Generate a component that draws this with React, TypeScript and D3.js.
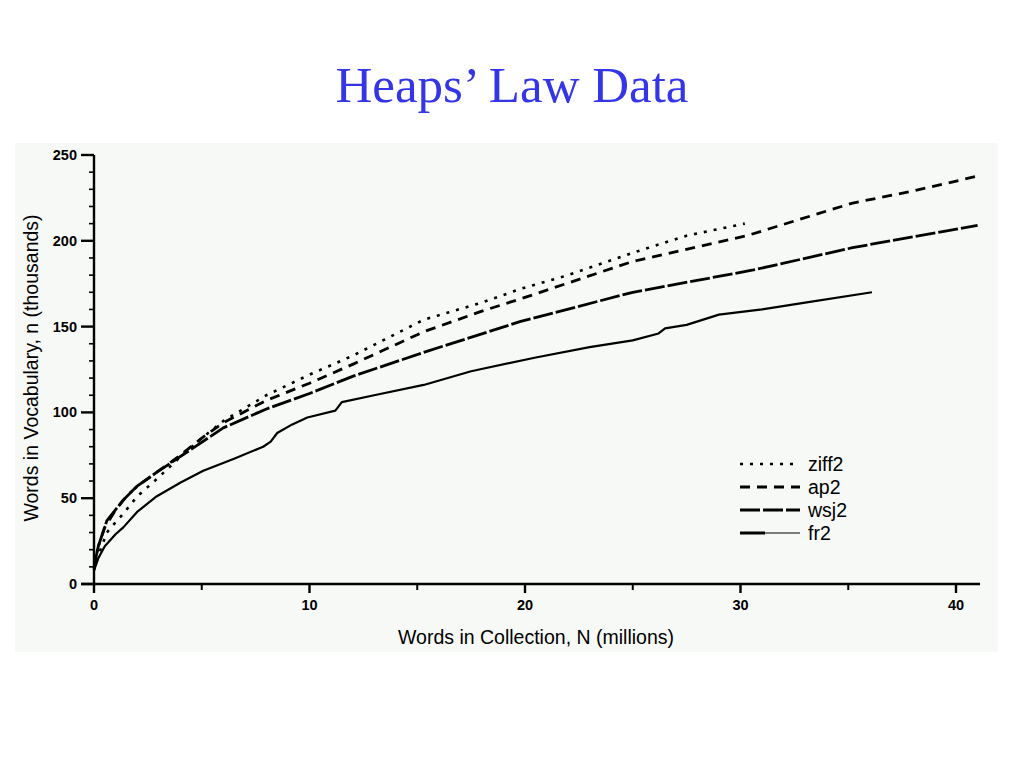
import React from 'react';
import * as d3 from 'd3';

// values (N in millions, n in thousands)
const ziffN = [0, 0.1, 0.3, 0.6, 1.0, 1.36, 2.0, 2.9, 4.0, 5.0, 6.0, 8.0, 10, 12, 15.3, 18, 19.8, 22, 25, 27.5, 30.2];
const ziffV = [8, 13, 20, 30, 36, 41, 51, 61, 74, 85, 95, 110, 122, 133, 154, 164, 172, 180, 193, 203, 210];

const apN = [0, 0.1, 0.2, 0.5, 1.0, 1.5, 2.0, 2.9, 4.0, 5.0, 6.0, 8.0, 10, 12, 15.3, 18, 20, 25, 30.3, 35.2, 38, 41.1];
const apV = [9, 16, 22, 33, 43, 51, 57, 65, 75, 85, 94, 107, 117, 128, 147, 159, 167, 188, 203, 222, 229, 238];

const wsjN = [0, 0.1, 0.2, 0.6, 1.36, 2.0, 2.9, 4.45, 6.0, 8.0, 10, 12, 15.3, 19.8, 25, 30.6, 35.2, 41];
const wsjV = [9, 16, 22, 37, 49, 57, 65, 78, 91, 102, 111, 121, 135, 153, 170, 183, 196, 209];

const frN = [0, 0.2, 0.5, 1.0, 1.36, 2.0, 2.9, 4.0, 5.07, 6.5, 7.85, 8.2, 8.5, 9.2, 9.9, 11.2, 11.5, 13, 15.3, 17.5, 20.5, 23, 25, 26.2, 26.5, 27.5, 29, 31, 33, 36.1];
const frV = [8, 15, 22, 29, 33, 42, 51, 59, 66, 73, 80, 83, 88, 93, 97, 101, 106, 110, 116, 124, 132, 138, 142, 146, 149, 151, 157, 160, 164, 170];

const seriesNames = ['ziff2', 'ap2', 'wsj2', 'fr2'];
const xMajorTicks = [0, 10, 20, 30, 40];
const xMinorTicks = [5, 15, 25, 35];
const yMajorTicks = [0, 50, 100, 150, 200, 250];

const styles: Record<string, { dash: string; width: number }> = {
  ziff2: { dash: '3,7', width: 2.6 },
  ap2: { dash: '10,7', width: 2.8 },
  wsj2: { dash: '20,3', width: 2.8 },
  fr2: { dash: '', width: 2.2 },
};

const App: React.FC = () => {
  const x = d3.scaleLinear().domain([0, 40]).range([94, 956]);
  const y = d3.scaleLinear().domain([0, 250]).range([584, 155]);

  const line = d3.line<[number, number]>()
    .x(d => x(d[0]))
    .y(d => y(d[1]))
    .curve(d3.curveLinear);

  const zip = (a: number[], b: number[]) => a.map((v, i) => [v, b[i]] as [number, number]);
  const series = [
    { name: 'ziff2', pts: zip(ziffN, ziffV) },
    { name: 'ap2', pts: zip(apN, apV) },
    { name: 'wsj2', pts: zip(wsjN, wsjV) },
    { name: 'fr2', pts: zip(frN, frV) },
  ];

  const yMinor = d3.range(0, 251, 10).filter(v => v % 50 !== 0);
  const font = '"Liberation Sans", Arial, sans-serif';

  return (
    <div style={{ position: 'absolute', left: 0, top: 0 }}>
      <svg width={1024} height={768} style={{ display: 'block', background: '#fff' }}>
        <text x={512} y={102} textAnchor="middle" fontFamily='"Liberation Serif", "Times New Roman", serif'
          fontSize={51} fill="#3535e8">Heaps’ Law Data</text>

        {/* scanned figure backdrop */}
        <rect x={15} y={143} width={983} height={509} fill="#f7f9f6" />

        {/* axes */}
        <g stroke="#000" strokeWidth={2.4} fill="none">
          <line x1={x(0)} x2={x(0)} y1={y(250)} y2={y(0) + 1} />
          <line x1={81} x2={980} y1={y(0)} y2={y(0)} />
          {yMajorTicks.map(t => (
            <line key={'ym' + t} x1={x(0) - 13} x2={x(0)} y1={y(t)} y2={y(t)} />
          ))}
          {yMinor.map(t => (
            <line key={'yn' + t} x1={x(0) - 5} x2={x(0)} y1={y(t)} y2={y(t)} strokeWidth={1.6} />
          ))}
          {xMajorTicks.map(t => (
            <line key={'xm' + t} x1={x(t)} x2={x(t)} y1={y(0)} y2={y(0) + 9} />
          ))}
          {xMinorTicks.map(t => (
            <line key={'xn' + t} x1={x(t)} x2={x(t)} y1={y(0)} y2={y(0) + 6} strokeWidth={2} />
          ))}
        </g>

        <g fontFamily={font} fontWeight="bold" fontSize={14.5} fill="#000">
          {yMajorTicks.map(t => (
            <text key={'yl' + t} x={77} y={y(t)} dy="0.35em" textAnchor="end">{t}</text>
          ))}
          {xMajorTicks.map(t => (
            <text key={'xl' + t} x={x(t)} y={605} dy="0.35em" textAnchor="middle">{t}</text>
          ))}
        </g>

        <text x={536} y={637} dy="0.35em" textAnchor="middle" fontFamily={font} fontSize={19.5}>
          Words in Collection, N (millions)
        </text>
        <text transform={`translate(31,368) rotate(-90)`} dy="0.35em" textAnchor="middle" fontFamily={font} fontSize={19.5}>
          Words in Vocabulary, n (thousands)
        </text>

        {/* curves */}
        <g fill="none" stroke="#000" strokeLinejoin="round">
          {series.map(s => (
            <path key={s.name} d={line(s.pts) || ''} strokeWidth={styles[s.name].width}
              strokeDasharray={styles[s.name].dash || undefined} />
          ))}
        </g>

        {/* legend */}
        <g fontFamily={font} fontSize={19.5} fill="#000">
          {seriesNames.map((name, i) => {
            const ly = 464 + i * 23;
            return (
              <g key={name}>
                {name === 'fr2' ? (
                  <g stroke="#000">
                    <line x1={740} x2={765} y1={ly} y2={ly} strokeWidth={3} />
                    <line x1={765} x2={800} y1={ly} y2={ly} strokeWidth={1.2} />
                  </g>
                ) : (
                  <line x1={740} x2={800} y1={ly} y2={ly} stroke="#000"
                    strokeWidth={styles[name].width} strokeDasharray={styles[name].dash} />
                )}
                <text x={808} y={ly} dy="0.35em">{name}</text>
              </g>
            );
          })}
        </g>
      </svg>
    </div>
  );
};

export default App;
